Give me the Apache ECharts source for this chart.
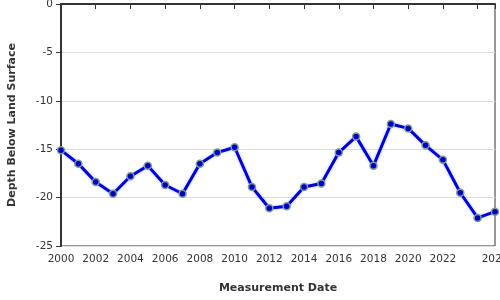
<!DOCTYPE html>
<html>
<head>
<meta charset="utf-8">
<script src="https://cdn.jsdelivr.net/npm/echarts@6/dist/echarts.min.js"></script>
<style>html,body{margin:0;padding:0;background:#fff}#c{width:500px;height:300px}</style>
</head>
<body>
<div id="c"></div>
<script>
const years = [2000,2001,2002,2003,2004,2005,2006,2007,2008,2009,2010,2011,2012,2013,2014,2015,2016,2017,2018,2019,2020,2021,2022,2023,2024,2025];
const depth = [-15.1,-16.5,-18.4,-19.6,-17.8,-16.7,-18.7,-19.6,-16.5,-15.35,-14.8,-18.9,-21.1,-20.9,-18.9,-18.55,-15.35,-13.7,-16.7,-12.4,-12.85,-14.6,-16.1,-19.5,-22.1,-21.45];
const xTicks = [2000,2002,2004,2006,2008,2010,2012,2014,2016,2018,2020,2022,2024,2025];
const xLabels = [2000,2002,2004,2006,2008,2010,2012,2014,2016,2018,2020,2022,2025];
const yTicks = [-25,-20,-15,-10,-5,0];

const chart = echarts.init(document.getElementById('c'), null, {renderer:'canvas'});
const font = 'DejaVu Sans';
chart.setOption({
  animation: false,
  backgroundColor: '#fff',
  grid: {left: 61, right: 5, top: 4, bottom: 54, show: true, borderColor: '#333', borderWidth: 1, backgroundColor: 'transparent', containLabel: false, outerBoundsMode: 'none'},
  xAxis: {
    type: 'value', min: 2000, max: 2025,
    name: 'Measurement Date', nameLocation: 'middle', nameGap: 37,
    nameTextStyle: {fontFamily: font, fontSize: 11, fontWeight: 'bold', color: '#333'},
    axisLine: {lineStyle: {color: '#333', width: 2}},
    axisTick: {show: true, length: 5, lineStyle: {color: '#333'}, customValues: xTicks},
    axisLabel: {fontFamily: font, fontSize: 10.5, color: '#333', margin: 8, customValues: xLabels, formatter: v => String(v), showMaxLabel: true, hideOverlap: false},
    splitLine: {show: false}
  },
  yAxis: {
    type: 'value', min: -25, max: 0, interval: 5,
    name: 'Depth Below Land Surface', nameLocation: 'middle', nameGap: 43,
    nameTextStyle: {fontFamily: font, fontSize: 11, fontWeight: 'bold', color: '#333'},
    axisLine: {show: true, lineStyle: {color: '#333', width: 2}},
    axisTick: {show: true, length: 5, lineStyle: {color: '#333'}},
    axisLabel: {fontFamily: font, fontSize: 10.5, color: '#333', margin: 8},
    splitLine: {show: true, lineStyle: {color: '#ddd', width: 1}}
  },
  series: [{
    type: 'line',
    data: years.map((y, i) => [y, depth[i]]),
    lineStyle: {color: '#0000dd', width: 3, shadowColor: 'rgba(80,120,255,0.45)', shadowBlur: 3},
    symbol: 'circle', symbolSize: 7,
    itemStyle: {color: '#0000c0', borderColor: '#7f9a9a', borderWidth: 1.5},
    clip: false
  }]
});
</script>
</body>
</html>
